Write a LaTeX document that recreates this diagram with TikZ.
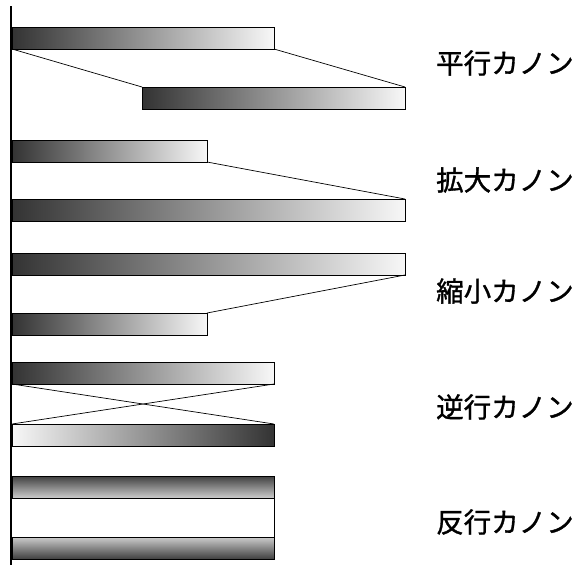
\documentclass[tikz,border=0pt]{standalone}
\usepackage{fontspec}
\newfontfamily\jpfont[FakeBold=1.2]{Noto Sans CJK JP}
\begin{document}
\begin{tikzpicture}[x=1pt,y=-1pt,
  bar/.style={draw=black, line width=0.7pt, inner sep=0pt, outer sep=0pt, anchor=north west, minimum height=22pt},
  ltr/.style={bar, left color=black!80, middle color=black!40, right color=black!3},
  rtl/.style={bar, left color=black!3, middle color=black!40, right color=black!80},
  topdark/.style={bar, top color=black!75, bottom color=black!20},
  botdark/.style={bar, top color=black!20, bottom color=black!75},
  lab/.style={font=\jpfont\fontsize{27.5}{27.5}\selectfont, anchor=west, inner sep=0pt},
  link/.style={line width=0.7pt}]
\useasboundingbox (0,0) rectangle (585,565);
% axis
\coordinate (axtop) at (11,6);
\coordinate (axbot) at (11,565);
\draw[line width=2pt] (axtop) -- (axbot);
% 平行カノン
\node[ltr, minimum width=262pt] (p1) at (12,27) {};
\node[ltr, minimum width=263pt] (p2) at (142,87) {};
\draw[link] (p1.south west) -- (p2.north west);
\draw[link] (p1.south east) -- (p2.north east);
\node[lab] (lp) at (436,63) {平行カノン};
% 拡大カノン
\node[ltr, minimum width=195pt] (k1) at (12,140) {};
\node[ltr, minimum width=393pt] (k2) at (12,199) {};
\draw[link] (k1.south east) -- (k2.north east);
\node[lab] (lk) at (436,180) {拡大カノン};
% 縮小カノン
\node[ltr, minimum width=393pt] (s1) at (12,253) {};
\node[ltr, minimum width=195pt] (s2) at (12,313) {};
\draw[link] (s1.south east) -- (s2.north east);
\node[lab] (ls) at (436,291) {縮小カノン};
% 逆行カノン
\node[ltr, minimum width=262pt] (g1) at (12,362) {};
\node[rtl, minimum width=262pt] (g2) at (12,424) {};
\draw[link] (g1.south west) -- (g2.north east);
\draw[link] (g1.south east) -- (g2.north west);
\node[lab] (lg) at (436,407) {逆行カノン};
% 反行カノン
\node[topdark, minimum width=262pt] (h1) at (12,476) {};
\node[botdark, minimum width=262pt] (h2) at (12,537) {};
\draw[link] (h1.south east) -- (h2.north east);
\node[lab] (lh) at (436,522) {反行カノン};
\end{tikzpicture}
\end{document}
